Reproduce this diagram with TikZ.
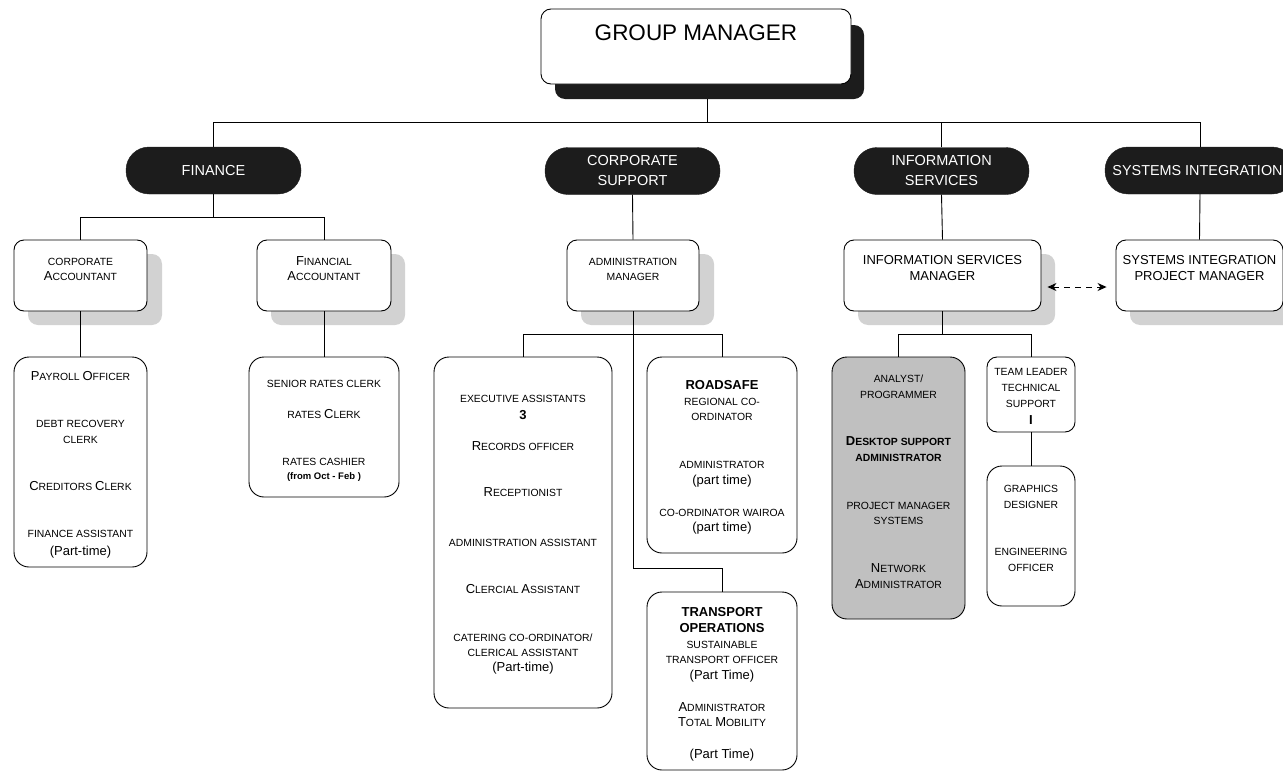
\documentclass[tikz,border=0pt]{standalone}
\usepackage{fontspec}
\setmainfont{Liberation Sans}
\usetikzlibrary{arrows.meta}
\definecolor{pill}{HTML}{1C1C1C}
\definecolor{shade}{HTML}{D2D2D2}
\definecolor{greybox}{HTML}{C0C0C0}
\newcommand\BL[1]{{\fontsize{13}{15}\selectfont #1}}
\begin{document}
\begin{tikzpicture}[x=1pt,y=-1pt,
 box/.style={draw, fill=white, rounded corners=10pt, line width=0.9pt, inner sep=0pt},
 shad/.style={fill=shade, rounded corners=10pt, inner sep=0pt},
 pillbox/.style={fill=pill, draw=pill, rounded corners=23pt, inner sep=0pt, minimum width=175pt, minimum height=47pt},
 lowbox/.style={box, rounded corners=15pt},
 conn/.style={line width=0.9pt},
 t/.style={anchor=base, inner sep=0pt, font=\fontsize{10.4}{12}\selectfont},
 tb/.style={t, font=\bfseries\fontsize{10.4}{12}\selectfont},
 tB/.style={t, font=\bfseries\fontsize{13}{15}\selectfont},
 tL/.style={t, font=\fontsize{13}{15}\selectfont},
 tP/.style={t, text=white, font=\fontsize{14.5}{17}\selectfont},
]
\useasboundingbox (0,0) rectangle (1283,771);

% ---------- group manager
\node[shad, fill=pill, minimum width=309pt, minimum height=74pt] (gmsh) at (709.5,62) {};
\node[box, minimum width=310pt, minimum height=75pt] (gm) at (696,46.5) {};
\node[t, font=\fontsize{22.5}{26}\selectfont] (gmt) at (696,40) {GROUP MANAGER};

% ---------- departments
\node[pillbox] (fin) at (213.5,170.5) {};
\node[pillbox] (cs) at (632.5,171) {};
\node[pillbox] (is) at (941.5,171) {};
\node[pillbox, minimum width=190pt] (si) at (1200,170.5) {};
\node[tP] (fint) at (213.5,175.5) {FINANCE};
\node[tP] (cst1) at (632.5,165.5) {CORPORATE};
\node[tP] (cst2) at (632.5,185.5) {SUPPORT};
\node[tP] (ist1) at (941.5,165.5) {INFORMATION};
\node[tP] (ist2) at (941.5,185.5) {SERVICES};
\node[tP, font=\fontsize{14.4}{17}\selectfont] (sit) at (1197.5,175.5) {SYSTEMS INTEGRATION};

% ---------- managers (shadows first)
\node[shad, minimum width=134pt, minimum height=71pt] (cash) at (95,289.5) {};
\node[shad, minimum width=134pt, minimum height=71pt] (fash) at (338,289.5) {};
\node[shad, minimum width=133pt, minimum height=71pt] (amsh) at (647.5,289.5) {};
\node[shad, minimum width=197pt, minimum height=71pt] (ismsh) at (956.5,289.5) {};
\node[shad, minimum width=167pt, minimum height=71pt] (sipmsh) at (1213.5,289.5) {};

\node[box, minimum width=133pt, minimum height=71pt] (ca) at (80.5,275.5) {};
\node[box, minimum width=134pt, minimum height=71pt] (fa) at (324,275.5) {};
\node[box, minimum width=132pt, minimum height=71pt] (am) at (633,275.5) {};
\node[box, minimum width=197pt, minimum height=71pt] (ism) at (942.5,275.5) {};
\node[box, minimum width=167pt, minimum height=71pt] (sipm) at (1199.5,275.5) {};

\node[t] (cat1) at (80.5,265) {CORPORATE};
\node[t] (cat2) at (80.5,280) {\BL{A}CCOUNTANT};
\node[t] (fat1) at (324,265) {\BL{F}INANCIAL};
\node[t] (fat2) at (324,280) {\BL{A}CCOUNTANT};
\node[t] (amt1) at (633,265) {ADMINISTRATION};
\node[t] (amt2) at (633,280) {MANAGER};
\node[tL] (ismt1) at (942.5,264) {INFORMATION SERVICES};
\node[tL] (ismt2) at (942.5,280) {MANAGER};
\node[tL] (sipmt1) at (1199.5,264) {SYSTEMS INTEGRATION};
\node[tL] (sipmt2) at (1199.5,280) {PROJECT MANAGER};

% ---------- lower boxes
\node[lowbox, minimum width=133pt, minimum height=210pt] (pay) at (80.5,462) {};
\node[lowbox, minimum width=150pt, minimum height=140pt] (rates) at (324,427) {};
\node[lowbox, minimum width=178pt, minimum height=351pt] (ex) at (523,532.5) {};
\node[lowbox, minimum width=150pt, minimum height=196pt] (rs) at (722,455) {};
\node[lowbox, minimum width=150pt, minimum height=178pt] (tr) at (722,681) {};
\node[lowbox, fill=greybox, minimum width=133pt, minimum height=262pt] (grey) at (898.5,488) {};
\node[box, minimum width=88pt, minimum height=75pt] (tl) at (1031,394.5) {};
\node[lowbox, minimum width=88pt, minimum height=140pt] (gr) at (1031,536) {};

% payroll
\node[t] (p1) at (80.5,380) {\BL{P}AYROLL \BL{O}FFICER};
\node[t] (p2) at (80.5,427) {DEBT RECOVERY};
\node[t] (p3) at (80.5,443) {CLERK};
\node[t] (p4) at (80.5,490) {\BL{C}REDITORS \BL{C}LERK};
\node[t] (p5) at (80.5,537) {FINANCE ASSISTANT};
\node[tL] (p6) at (80.5,555) {(Part-time)};
% rates
\node[t] (r1) at (324,387) {SENIOR RATES CLERK};
\node[t] (r2) at (324,418) {RATES \BL{C}LERK};
\node[t] (r3) at (324,465) {RATES CASHIER};
\node[t, font=\bfseries\fontsize{9.5}{11}\selectfont] (r4) at (324,479) {(from Oct - Feb )};
% executive
\node[t] (e1) at (523,402) {EXECUTIVE ASSISTANTS};
\node[tB] (e2) at (523,419) {3};
\node[t] (e3) at (523,450) {\BL{R}ECORDS OFFICER};
\node[t] (e4) at (523,496) {\BL{R}ECEPTIONIST};
\node[t] (e5) at (523,546) {ADMINISTRATION ASSISTANT};
\node[t] (e6) at (523,593) {\BL{C}LERCIAL \BL{A}SSISTANT};
\node[t] (e7) at (523,641) {CATERING CO-ORDINATOR/};
\node[t] (e8) at (523,656) {CLERICAL ASSISTANT};
\node[tL] (e9) at (523,671) {(Part-time)};
% roadsafe
\node[tB] (rs1) at (722,389) {ROADSAFE};
\node[t] (rs2) at (722,405) {REGIONAL CO-};
\node[t] (rs3) at (722,420) {ORDINATOR};
\node[t] (rs4) at (722,468) {ADMINISTRATOR};
\node[tL] (rs5) at (722,484) {(part time)};
\node[t] (rs6) at (722,516) {CO-ORDINATOR WAIROA};
\node[tL] (rs7) at (722,531) {(part time)};
% transport
\node[tB] (tr1) at (722,616) {TRANSPORT};
\node[tB] (tr2) at (722,632) {OPERATIONS};
\node[t] (tr3) at (722,648) {SUSTAINABLE};
\node[t] (tr4) at (722,663) {TRANSPORT OFFICER};
\node[tL] (tr5) at (722,679) {(Part Time)};
\node[t] (tr6) at (722,711) {\BL{A}DMINISTRATOR};
\node[t] (tr7) at (722,726) {\BL{T}OTAL \BL{M}OBILITY};
\node[tL] (tr8) at (722,758) {(Part Time)};
% grey box
\node[t] (g1) at (898.5,382) {ANALYST/};
\node[t] (g2) at (898.5,398) {PROGRAMMER};
\node[tb] (g3) at (898.5,445) {\BL{D}ESKTOP SUPPORT};
\node[tb] (g4) at (898.5,461) {ADMINISTRATOR};
\node[t] (g5) at (898.5,509) {PROJECT MANAGER};
\node[t] (g6) at (898.5,524) {SYSTEMS};
\node[t] (g7) at (898.5,572) {\BL{N}ETWORK};
\node[t] (g8) at (898.5,588) {\BL{A}DMINISTRATOR};
% team leader
\node[t] (tl1) at (1031,375) {TEAM LEADER};
\node[t] (tl2) at (1031,391) {TECHNICAL};
\node[t] (tl3) at (1031,407) {SUPPORT};
\node[tB] (tl4) at (1031,424) {I};
% graphics
\node[t] (gr1) at (1031,492) {GRAPHICS};
\node[t] (gr2) at (1031,508) {DESIGNER};
\node[t] (gr3) at (1031,555) {ENGINEERING};
\node[t] (gr4) at (1031,571) {OFFICER};

% ---------- connectors
\coordinate (busY) at (0,122);
\coordinate (finY) at (0,217);
\coordinate (amY) at (0,334);
\coordinate (trY) at (0,568);
\draw[conn] ([xshift=-2.5pt]gmsh.south) -- ([xshift=-2.5pt]gmsh.south |- busY);
\draw[conn] (fin.north) |- (si.north |- busY) -- (si.north);
\draw[conn] (is.north) -- (is.north |- busY);
\draw[conn] (fin.south) -- (fin.south |- finY);
\draw[conn] (ca.north) |- (fa.north |- finY) -- (fa.north);
\draw[conn] (ca.south) -- (pay.north);
\draw[conn] (fa.south) -- (rates.north);
\draw[conn] (cs.south) -- (am.north);
\draw[conn] (am.south) |- (tr.north |- trY) -- (tr.north);
\draw[conn] (ex.north) |- (rs.north |- amY) -- (rs.north);
\draw[conn] (is.south) -- (ism.north);
\draw[conn] (ism.south) -- (ism.south |- amY);
\draw[conn] (grey.north) |- (tl.north |- amY) -- (tl.north);
\draw[conn] (tl.south) -- (gr.north);
\draw[conn] (si.south) -- (sipm.north);
\draw[conn, dash pattern=on 6pt off 5pt, {Stealth[length=9pt,width=8pt]}-{Stealth[length=9pt,width=8pt]}]
  ([yshift=-11.5pt,xshift=6pt]ism.east) -- ([yshift=-11.5pt,xshift=-9pt]sipm.west);
\end{tikzpicture}
\end{document}
